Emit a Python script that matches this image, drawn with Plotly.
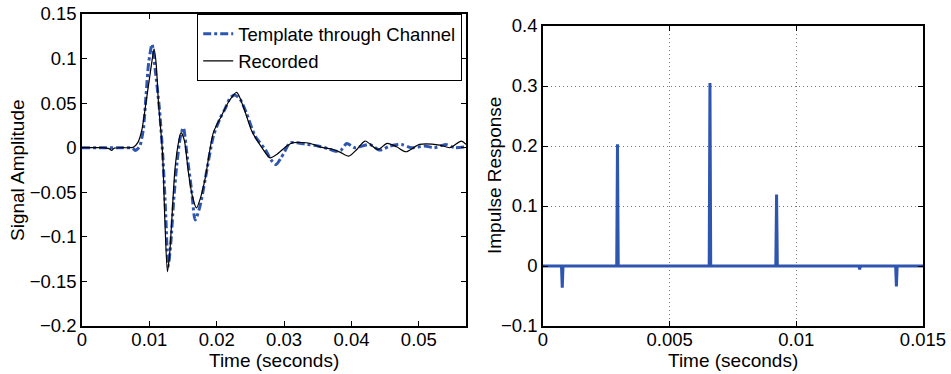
import plotly.graph_objects as go

# ---------------- Data ----------------
# Left panel: recorded signal (black) and template through channel (blue)
rec_t = [0, 0.003, 0.0040, 0.0044, 0.0048, 0.006, 0.0076, 0.0083, 0.0089, 0.0095,
         0.0100, 0.0104, 0.0107, 0.0110, 0.01135, 0.01195, 0.0123, 0.01268, 0.0130,
         0.01333, 0.0138, 0.0143, 0.0147, 0.0152, 0.0158, 0.0164, 0.0170, 0.0176,
         0.01827, 0.0195, 0.0207, 0.0217, 0.02296, 0.0239, 0.0252, 0.0267, 0.0279,
         0.0290, 0.0304, 0.0313, 0.0338, 0.0353, 0.0373, 0.0383, 0.0396, 0.0408,
         0.042, 0.0439, 0.0453, 0.0467, 0.0481, 0.0501, 0.0531, 0.0546, 0.0563, 0.057]
rec_y = [0, 0, -0.001, -0.003, -0.0005, 0, 0.0005, 0.006, 0.0206, 0.0507,
         0.077, 0.098, 0.111, 0.095, 0.0507, -0.0056, -0.081, -0.139, -0.12,
         -0.081, -0.024, 0.005, 0.0169, 0.008, -0.028, -0.055, -0.0676, -0.056,
         -0.035, 0.0169, 0.0356, 0.0507, 0.062, 0.047, 0.0187, 0.0, -0.0113,
         -0.007, 0.002, 0.0056, 0.005, 0.001, -0.002, -0.005, -0.0095, -0.002,
         0.0075, -0.002, 0.0048, 0.001, -0.0045, 0.0037, 0.003, 0.0, 0.0075, 0.0037]

tmpl_t = [0, 0.003, 0.006, 0.0075, 0.0079, 0.0083, 0.0086, 0.0091, 0.0095, 0.0099,
          0.0104, 0.01086, 0.0115, 0.0120, 0.0124, 0.0128, 0.0132, 0.0136, 0.0141,
          0.0146, 0.01505, 0.01555, 0.0163, 0.0168, 0.0175, 0.0183, 0.0195, 0.0205,
          0.0212, 0.022, 0.0227, 0.0235, 0.0244, 0.0257, 0.0272, 0.0281, 0.0288,
          0.0295, 0.0301, 0.0309, 0.0331, 0.035, 0.0365, 0.0376, 0.0384, 0.0393,
          0.0405, 0.0427, 0.0442, 0.0457, 0.0474, 0.0489, 0.0509, 0.0523, 0.054,
          0.0553, 0.057]
tmpl_y = [0, 0, 0, -0.0005, -0.003, -0.001, 0.002, 0.0206, 0.058, 0.0957,
          0.116, 0.088, 0.043, -0.01, -0.07, -0.133, -0.105, -0.06, -0.017,
          0.012, 0.0225, -0.0056, -0.05, -0.081, -0.066, -0.035, 0.013, 0.033,
          0.043, 0.056, 0.059, 0.054, 0.039, 0.013, -0.002, -0.014, -0.0188,
          -0.012, -0.004, 0.0056, 0.004, 0.002, -0.001, -0.004, -0.003, 0.0048,
          0.0, 0.0037, -0.0027, 0.0018, 0.0037, 0.0, 0.0018, 0.0, 0.0037, 0.0, 0.001]

# Right panel: impulse response spikes
spike_t = [0.00076, 0.00294, 0.00659, 0.00922, 0.0125, 0.01395]
spike_a = [-0.036, 0.203, 0.305, 0.119, -0.0055, -0.034]
ir_start, ir_end = 0.0, 0.015

left_yticks = [-0.2, -0.15, -0.1, -0.05, 0, 0.05, 0.1, 0.15]
left_yticklabels = ["\u22120.2", "\u22120.15", "\u22120.1", "\u22120.05", "0", "0.05", "0.1", "0.15"]
left_xticks = [0, 0.01, 0.02, 0.03, 0.04, 0.05]
left_xticklabels = ["0", "0.01", "0.02", "0.03", "0.04", "0.05"]
right_yticks = [-0.1, 0, 0.1, 0.2, 0.3, 0.4]
right_yticklabels = ["\u22120.1", "0", "0.1", "0.2", "0.3", "0.4"]
right_xticks = [0, 0.005, 0.01, 0.015]
right_xticklabels = ["0", "0.005", "0.01", "0.015"]

x_title = "Time (seconds)"
left_y_title = "Signal Amplitude"
right_y_title = "Impulse Response"

# Build impulse-response polyline from spike list
half_w = 0.00003
ir_x = [ir_start]
ir_y = [0]
for t, a in zip(spike_t, spike_a):
    ir_x += [t - half_w, t, t + half_w]
    ir_y += [0, a, 0]
ir_x.append(ir_end)
ir_y.append(0)

# ---------------- Figure ----------------
W, H = 951, 374
BLUE = "#2E55B0"
FONT = "Liberation Sans, Arial, sans-serif"
TITLE_SIZE = 19

fig = go.Figure()
fig.add_trace(go.Scatter(x=tmpl_t, y=tmpl_y, mode="lines", name="Template through Channel",
                         line=dict(color=BLUE, width=3, dash="8px,3px,3px,3px", shape="spline",
                                   smoothing=0.7),
                         xaxis="x", yaxis="y"))
fig.add_trace(go.Scatter(x=rec_t, y=rec_y, mode="lines", name="Recorded",
                         line=dict(color="black", width=1.2, shape="spline", smoothing=0.7),
                         xaxis="x", yaxis="y"))
fig.add_trace(go.Scatter(x=ir_x, y=ir_y, mode="lines", showlegend=False,
                         line=dict(color=BLUE, width=3),
                         xaxis="x2", yaxis="y2"))

def px_x(p):
    return p / W

def px_y(p):
    return (H - p) / H

common_axis = dict(showline=True, linecolor="black", linewidth=1.5, mirror="ticks",
                   ticks="inside", ticklen=5, tickcolor="black", zeroline=False,
                   automargin=False,
                   tickfont=dict(size=18.5, color="black", family=FONT))

def title_ann(text, x, y, angle=0):
    return dict(text=text, x=px_x(x), y=px_y(y), xref="paper", yref="paper",
                xanchor="center", yanchor="middle", showarrow=False, textangle=angle,
                font=dict(size=TITLE_SIZE, family=FONT, color="black"))

fig.update_layout(
    width=W, height=H,
    margin=dict(l=0, r=0, t=0, b=0, pad=0),
    paper_bgcolor="white", plot_bgcolor="white",
    font=dict(family=FONT, color="black"),
    showlegend=True,
    legend=dict(x=px_x(462), xanchor="right", y=px_y(14), yanchor="top",
                bordercolor="black", borderwidth=1.2, bgcolor="white",
                font=dict(size=18.5, family=FONT, color="black"),
                tracegroupgap=0, itemwidth=30),
    xaxis=dict(domain=[px_x(82), px_x(466)], range=[0, 0.057], anchor="y",
               tickvals=left_xticks, ticktext=left_xticklabels, showgrid=False,
               ticklabelstandoff=-4, **common_axis),
    yaxis=dict(domain=[px_y(326), px_y(14)], range=[-0.2, 0.15], anchor="x",
               tickvals=left_yticks, ticktext=left_yticklabels, showgrid=False,
               **common_axis),
    xaxis2=dict(domain=[px_x(543), px_x(923)], range=[ir_start, ir_end], anchor="y2",
                tickvals=right_xticks, ticktext=right_xticklabels,
                showgrid=True, gridcolor="#777777", griddash="1px,3px", gridwidth=1,
                ticklabelstandoff=-4, **common_axis),
    yaxis2=dict(domain=[px_y(326), px_y(26)], range=[-0.1, 0.4], anchor="x2",
                tickvals=right_yticks, ticktext=right_yticklabels,
                showgrid=True, gridcolor="#777777", griddash="1px,3px", gridwidth=1,
                **common_axis),
    annotations=[
        title_ann(x_title, 274, 360),
        title_ann(x_title, 733, 360),
        title_ann(left_y_title, 17, 170, -90),
        title_ann(right_y_title, 494, 176, -90),
    ],
)

fig.write_html("out.html")
